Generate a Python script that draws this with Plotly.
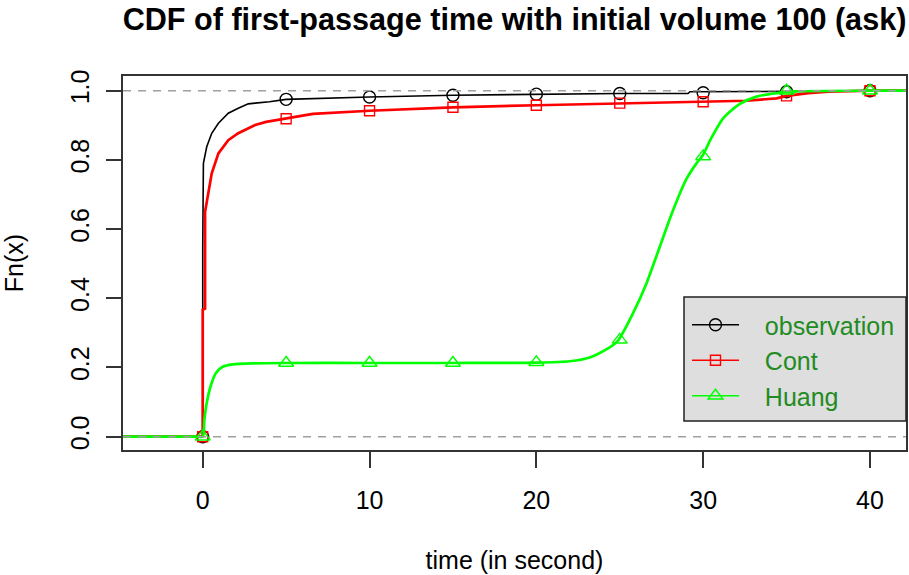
import plotly.graph_objects as go

# ---------------- data ----------------
obs_t = [-5, 0, 0, 0.02, 0.04, 0.24, 0.54, 0.94, 1.53, 2.13, 2.73, 3.14, 4, 5, 7.5,
         10, 15, 20, 25, 29.1, 29.2, 35, 38, 40, 43]
obs_p = [0, 0, 0.55, 0.70, 0.79, 0.838, 0.877, 0.906, 0.935, 0.949, 0.962, 0.964, 0.968,
         0.975, 0.979, 0.982, 0.987, 0.99, 0.992, 0.992, 0.997, 0.998, 1.0, 1.0, 1.0]

cont_t = [-5, 0, 0, 0.14, 0.14, 0.34, 0.54, 0.94, 1.53, 2.13, 2.73, 3.14, 3.8, 4.8, 6.6,
          10, 15, 20, 25, 30, 32.6, 34.4, 35, 36.3, 37.5, 40, 43]
cont_p = [0, 0, 0.367, 0.37, 0.65, 0.703, 0.761, 0.819, 0.857, 0.877, 0.891, 0.901, 0.91,
          0.918, 0.933, 0.942, 0.952, 0.958, 0.964, 0.968, 0.971, 0.978, 0.985, 0.993,
          0.997, 1.0, 1.0]

huang_t = [-5, -0.3, 0, 0.1, 0.25, 0.5, 0.8, 1.2, 1.8, 3, 5, 10, 15, 20, 22, 23.2, 24.4,
           24.9, 25.8, 26.6, 27.4, 28.2, 29.0, 29.6, 30.0, 30.4, 31.2, 32.2, 33.2, 34.4,
           35.5, 40, 43]
huang_p = [0, 0, 0, 0.05, 0.10, 0.15, 0.185, 0.202, 0.209, 0.212, 0.213, 0.213, 0.213,
           0.214, 0.218, 0.229, 0.258, 0.278, 0.357, 0.443, 0.549, 0.655, 0.745, 0.79,
           0.815, 0.855, 0.92, 0.962, 0.983, 0.993, 0.998, 1.0, 1.0]

mark_t = [0, 5, 10, 15, 20, 25, 30, 35, 40]
obs_mark = [0, 0.975, 0.982, 0.987, 0.99, 0.992, 0.994, 0.997, 1.0]
cont_mark = [0, 0.919, 0.942, 0.952, 0.958, 0.964, 0.968, 0.985, 1.0]
huang_mark = [0, 0.213, 0.213, 0.213, 0.215, 0.28, 0.81, 1.0, 1.0]

series_names = ["observation", "Cont", "Huang"]
x_ticks = [0, 10, 20, 30, 40]
y_ticks = [0.0, 0.2, 0.4, 0.6, 0.8, 1.0]

title_text = "CDF of first-passage time with initial volume 100 (ask)"
x_title = "time (in second)"
y_title = "Fn(x)"

# ---------------- figure ----------------
FONT = "Liberation Sans, Arial, Helvetica, sans-serif"
BLACK, RED, GREEN = "#000000", "#ff0000", "#00ff00"
NBSP = "\u00a0"

fig = go.Figure()

specs = [
    (obs_t, obs_p, obs_mark, BLACK, 1.6, "circle-open", 12, "linear"),
    (cont_t, cont_p, cont_mark, RED, 2.7, "square-open", 10, "linear"),
    (huang_t, huang_p, huang_mark, GREEN, 2.7, "triangle-up-open", 13, "spline"),
]

for name, (t, p, m, col, lw, sym, ms, shp) in zip(series_names, specs):
    line = dict(color=col, width=lw, shape=shp)
    if shp == "spline":
        line["smoothing"] = 0.7
    fig.add_trace(go.Scatter(x=t, y=p, mode="lines", line=line,
                             showlegend=False, hoverinfo="skip"))
    fig.add_trace(go.Scatter(x=mark_t, y=m, mode="markers",
                             marker=dict(symbol=sym, size=ms, color=col,
                                         line=dict(color=col, width=1.4)),
                             showlegend=False, cliponaxis=False))

for name, (t, p, m, col, lw, sym, ms, shp) in zip(series_names, specs):
    fig.add_trace(go.Scatter(x=[None], y=[None], mode="lines+markers",
                             name=NBSP * 3 + name,
                             line=dict(color=col, width=1.3),
                             marker=dict(symbol=sym, size=ms, color=col,
                                         line=dict(color=col, width=1.4))))

# horizontal dashed reference lines at 0 and 1
for yv in (0, 1):
    fig.add_shape(type="line", xref="paper", yref="y", x0=0, x1=1, y0=yv, y1=yv,
                  line=dict(color="#a0a0a0", width=1.6, dash="8px,7px"), layer="above")

# legend box
fig.add_shape(type="rect", xref="paper", yref="paper",
              x0=(684 - 123) / 783, x1=1.0, y0=(450 - 421) / 374, y1=(450 - 297) / 374,
              fillcolor="#dedede", line=dict(color="#222222", width=1.5), layer="above")

fig.update_layout(
    width=909, height=575,
    margin=dict(l=123, r=3, t=76, b=125, autoexpand=False),
    paper_bgcolor="white", plot_bgcolor="white",
    font=dict(family=FONT, size=25, color="#000000"),
    title=dict(text="<b>" + title_text + "</b>", font=dict(size=30.6, family=FONT),
               x=0.5, xref="paper", xanchor="center", y=1 - 19 / 575, yref="container",
               yanchor="middle", automargin=False),
    showlegend=True,
    legend=dict(x=(687 - 123) / 783, xanchor="left", y=(450 - 302) / 374, yanchor="top",
                bgcolor="rgba(0,0,0,0)", borderwidth=0,
                font=dict(size=25, color="#228b22", family=FONT),
                itemwidth=47, tracegroupgap=0),
    xaxis=dict(range=[-4.78, 42.16], tickvals=x_ticks, ticks="outside", ticklen=16,
               tickwidth=1.5, tickcolor="#333333", showgrid=False, zeroline=False,
               showline=True, linecolor="#333333", linewidth=1.5, mirror=True,
               ticklabelstandoff=11, automargin=False,
               title=dict(text=x_title, standoff=39, font=dict(size=25))),
    yaxis=dict(range=[-0.0385, 1.0425], tickvals=y_ticks, tickformat=".1f", ticks="outside",
               ticklen=15, tickwidth=1.5, tickcolor="#333333", showgrid=False,
               zeroline=False, showline=True, linecolor="#333333", linewidth=1.5,
               mirror=True, tickangle=-90, ticklabelstandoff=7, automargin=False,
               title=dict(text=y_title, standoff=36, font=dict(size=25))),
)

fig.write_html("out.html", config={"displayModeBar": False},
               post_script="document.body.style.margin='0';document.body.style.padding='0';")
